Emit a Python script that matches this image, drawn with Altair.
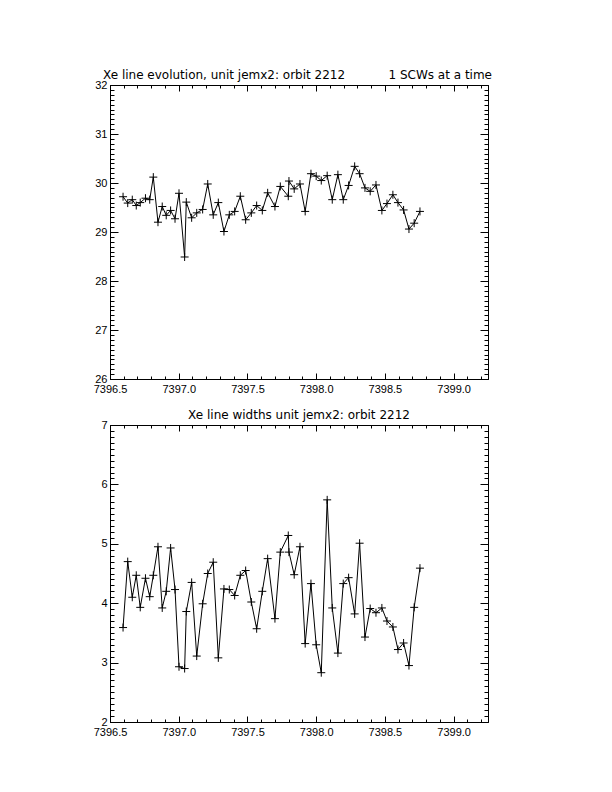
import altair as alt
import pandas as pd

# ---- data ----
times = [7396.595, 7396.629, 7396.662, 7396.691, 7396.720, 7396.758, 7396.789, 7396.815,
         7396.849, 7396.880, 7396.909, 7396.941, 7396.973, 7397.002, 7397.043, 7397.055,
         7397.094, 7397.131, 7397.174, 7397.211, 7397.251, 7397.288, 7397.329, 7397.368,
         7397.407, 7397.448, 7397.487, 7397.528, 7397.567, 7397.608, 7397.647, 7397.700,
         7397.739, 7397.797, 7397.802, 7397.840, 7397.882, 7397.920, 7397.962, 7398.000,
         7398.037, 7398.080, 7398.117, 7398.158, 7398.197, 7398.236, 7398.280, 7398.316,
         7398.355, 7398.393, 7398.435, 7398.478, 7398.515, 7398.558, 7398.595, 7398.636,
         7398.675, 7398.713, 7398.755]

line_energy = [29.72, 29.59, 29.66, 29.54, 29.60, 29.69, 29.66, 30.12, 29.20, 29.52,
               29.34, 29.44, 29.27, 29.79, 28.49, 29.61, 29.29, 29.39, 29.46, 29.98,
               29.35, 29.60, 29.01, 29.35, 29.42, 29.73, 29.25, 29.39, 29.54, 29.44,
               29.80, 29.52, 29.93, 29.73, 30.04, 29.88, 29.98, 29.42, 30.19, 30.14,
               30.05, 30.15, 29.66, 30.17, 29.66, 29.95, 30.34, 30.19, 29.90, 29.83,
               29.96, 29.44, 29.58, 29.76, 29.60, 29.45, 29.06, 29.18, 29.42]

line_width = [3.59, 4.70, 4.10, 4.47, 3.93, 4.42, 4.11, 4.47, 4.95, 3.92,
              4.20, 4.93, 4.23, 2.93, 2.90, 3.86, 4.35, 3.11, 3.99, 4.50,
              4.69, 3.08, 4.24, 4.23, 4.13, 4.47, 4.55, 4.02, 3.57, 4.20,
              4.75, 3.74, 4.86, 5.14, 4.86, 4.48, 4.95, 3.32, 4.33, 3.30,
              2.83, 5.74, 3.92, 3.16, 4.33, 4.43, 3.82, 5.01, 3.43, 3.91,
              3.84, 3.92, 3.70, 3.60, 3.22, 3.33, 2.95, 3.93, 4.59]

x_domain = [7396.5, 7399.25]
x_major = [7396.5, 7397.0, 7397.5, 7398.0, 7398.5, 7399.0]
x_minor = [round(7396.5 + 0.1 * i, 1) for i in range(28)]

y1_domain = [26, 32]
y1_major = [26, 27, 28, 29, 30, 31, 32]
y1_minor = [round(26 + 0.1 * i, 1) for i in range(61)]

y2_domain = [2, 7]
y2_major = [2, 3, 4, 5, 6, 7]
y2_minor = [round(2 + 0.1 * i, 1) for i in range(51)]

title_top_left = "Xe line evolution, unit jemx2: orbit 2212"
title_top_right = "1 SCWs at a time"
title_bottom = "Xe line widths unit jemx2: orbit 2212"

W = 378
H1 = 294
H2 = 297
TICK_FONT = "Liberation Sans"
TITLE_FONT = "DejaVu Sans"
PLUS = "M-1,0L1,0M0,-1L0,1"


def axis(orient, values, size, offset=0, labels=False, fmt=None, pad=3, flush=None):
    kw = dict(orient=orient, values=values, tickSize=size, labels=labels, offset=offset,
              grid=False, title=None, domain=False, tickColor="black", tickWidth=1,
              labelColor="black", labelFont=TICK_FONT, labelFontSize=11,
              labelPadding=pad, labelOverlap=False)
    if fmt:
        kw["format"] = fmt
    if flush is not None:
        kw["labelFlush"] = flush
    return alt.Axis(**kw)


def panel(vals, ydom, ymaj, ymin, H, texts):
    df = pd.DataFrame({"t": times, "v": vals})
    xs = alt.Scale(domain=x_domain, nice=False, zero=False)
    ys = alt.Scale(domain=ydom, nice=False, zero=False)

    line = alt.Chart(df).mark_line(color="black", strokeWidth=1).encode(
        x=alt.X("t:Q", scale=xs, axis=axis("bottom", x_major, 0, labels=True, fmt=".1f", pad=4, flush=False)),
        y=alt.Y("v:Q", scale=ys, axis=axis("left", ymaj, 0, labels=True, fmt="d", pad=3)),
    )
    pts = alt.Chart(df).mark_point(shape=PLUS, size=64, filled=False, color="black",
                                   strokeWidth=1, opacity=1).encode(
        x=alt.X("t:Q", scale=xs, axis=None),
        y=alt.Y("v:Q", scale=ys, axis=None),
    )
    layers = [line, pts]
    # inward ticks on all four sides (major and minor)
    for xo, xoff, yo, yoff in [("top", -H, "right", -W), ("bottom", -H, "left", -W)]:
        for xv, yv, xsz, ysz in [(x_major, ymaj, 6, 8), (x_minor, ymin, 3, 4)]:
            layers.append(
                alt.Chart(df).mark_point(opacity=0).encode(
                    x=alt.X("t:Q", scale=xs, axis=axis(xo, xv, xsz, offset=xoff)),
                    y=alt.Y("v:Q", scale=ys, axis=axis(yo, yv, ysz, offset=yoff)),
                )
            )
    for txt, xpos, align in texts:
        layers.append(
            alt.Chart(pd.DataFrame({"txt": [txt]})).mark_text(
                align=align, baseline="alphabetic", font=TITLE_FONT, fontSize=12, color="black"
            ).encode(x=alt.value(xpos), y=alt.value(-6), text="txt:N")
        )
    return alt.layer(*layers).resolve_scale(x="shared", y="shared").resolve_axis(
        x="independent", y="independent").properties(width=W, height=H)


top = panel(line_energy, y1_domain, y1_major, y1_minor, H1,
            [(title_top_left, -7, "left"), (title_top_right, W + 4, "right")])
bottom = panel(line_width, y2_domain, y2_major, y2_minor, H2,
               [(title_bottom, W / 2, "center")])

chart = alt.vconcat(top, bottom, spacing=13).properties(
    padding={"left": 84, "top": 60, "right": 10, "bottom": 10},
    background="white",
).configure_view(stroke="black", strokeWidth=1)

chart.save("out.html", embed_options={"renderer": "svg", "actions": False})
